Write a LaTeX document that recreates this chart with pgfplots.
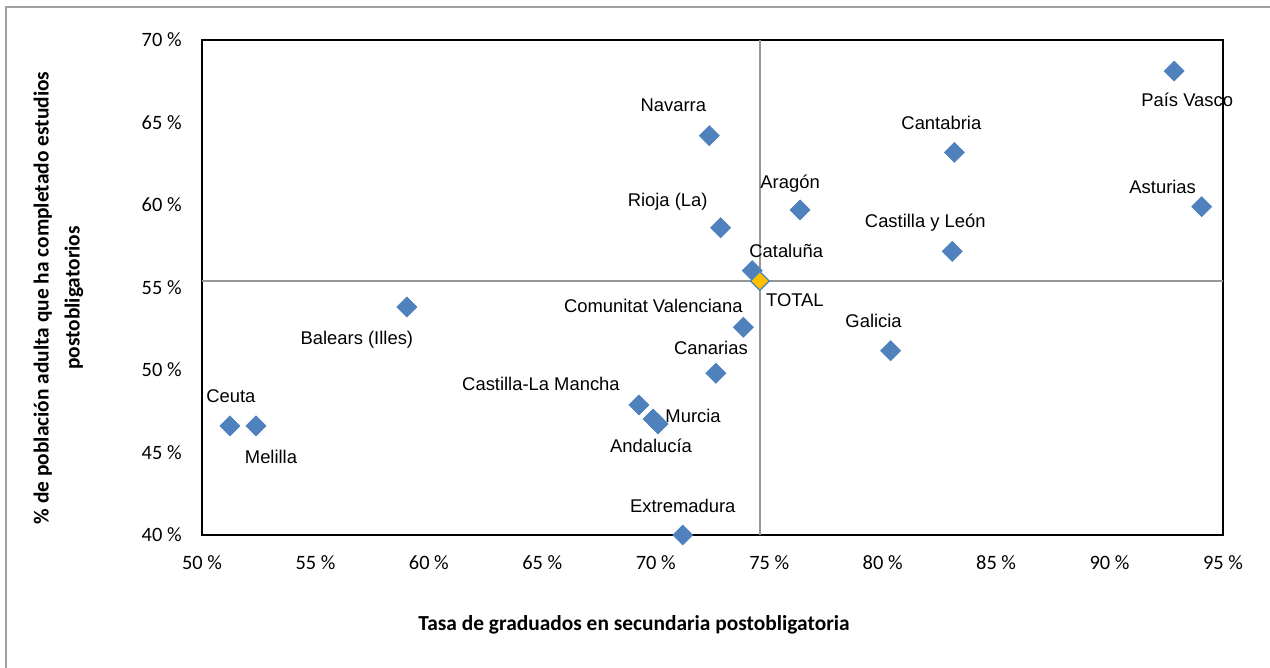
\documentclass[border=0pt]{standalone}
\usepackage{pgfplots}
\pgfplotsset{compat=1.18}
\usepackage{pgfplotstable}
\usepackage{fontspec}
\setmainfont{Carlito}
\newfontfamily\arialf{Liberation Sans}
\definecolor{mblue}{RGB}{79,129,189}
\definecolor{myellow}{RGB}{255,192,0}
\definecolor{crossgray}{RGB}{150,150,150}
\definecolor{framegray}{RGB}{160,160,160}

\pgfplotstableread[col sep=comma]{
x,y,dx,dy,label
51.23,46.61,1,30,Ceuta
52.38,46.61,15,-31,Melilla
59.03,53.82,-50,-33,Balears (Illes)
71.19,40.00,0,29,Extremadura
69.26,47.88,-98,21,Castilla-La Mancha
69.88,47.03,40,3,Murcia
70.10,46.73,-7,-22,Andalucía
72.65,49.80,-5,25,Canarias
73.86,52.59,-90,21,Comunitat Valenciana
74.25,56.02,34,20,Cataluña
72.86,58.62,-53,26,Rioja (La)
72.36,64.20,-36,30,Navarra
76.36,59.70,-10,26,Aragón
83.16,63.19,-13,29,Cantabria
83.07,57.19,-27,29,Castilla y León
80.35,51.17,-17,30,Galicia
92.85,68.12,13,-29,País Vasco
94.06,59.90,-39,20,Asturias
}\regions

\pgfplotstableread[col sep=comma]{
x,y,dx,dy,label
74.59,55.39,35,-19,TOTAL
}\total

\begin{document}
\begin{tikzpicture}[x=0.5pt,y=0.5pt]
\useasboundingbox (0,0) rectangle (1270,668);
\draw[framegray, line width=1pt] (6,-5) -- (6,661) -- (1280,661);
\begin{axis}[
  at={(101pt,66.5pt)}, anchor=south west,
  width=510.5pt, height=247.5pt, scale only axis,
  xmin=50, xmax=95, ymin=40, ymax=70,
  xtick={50,55,...,95}, ytick={40,45,...,70},
  major tick length=0pt,
  axis line style={black, line width=1pt},
  /pgf/number format/assume math mode=true,
  xticklabel={\pgfmathprintnumber{\tick}~\%},
  yticklabel={\pgfmathprintnumber{\tick}~\%},
  tick label style={font=\fontsize{10.2}{12}\selectfont, inner sep=0pt},
  yticklabel style={anchor=east, xshift=-10pt},
  xticklabel style={anchor=center, yshift=-14pt},
  clip=false,
]
\addplot[crossgray, line width=0.9pt, forget plot] coordinates {(74.59,40) (74.59,70)};
\addplot[crossgray, line width=0.9pt, forget plot] coordinates {(50,55.39) (95,55.39)};
\addplot[only marks, mark=square*, mark size=3.5pt,
  mark options={rotate=45, fill=mblue, draw=mblue},
  point meta=explicit symbolic,
  visualization depends on={\thisrow{dx}\as\dx},
  visualization depends on={\thisrow{dy}\as\dy},
  nodes near coords,
  nodes near coords style={anchor=center, inner sep=0pt, font=\arialf\fontsize{9.2}{11}\selectfont, text=black,
    xshift={\dx*0.5pt}, yshift={\dy*0.5pt}},
] table[x=x, y=y, meta=label] {\regions};
\addplot[only marks, mark=square*, mark size=3.3pt,
  mark options={rotate=45, fill=myellow, draw=mblue, line width=0.6pt},
  point meta=explicit symbolic,
  visualization depends on={\thisrow{dx}\as\dx},
  visualization depends on={\thisrow{dy}\as\dy},
  nodes near coords,
  nodes near coords style={anchor=center, inner sep=0pt, font=\arialf\fontsize{9.2}{11}\selectfont, text=black,
    xshift={\dx*0.5pt}, yshift={\dy*0.5pt}},
] table[x=x, y=y, meta=label] {\total};
\end{axis}
\node[font=\bfseries\fontsize{10.7}{13}\selectfont] at (634,43) {Tasa de graduados en secundaria postobligatoria};
\node[rotate=90, align=center, font=\bfseries\fontsize{10.7}{15.5}\selectfont] at (58.5,370)
  {\% de población adulta que ha completado estudios\\postobligatorios};
\end{tikzpicture}
\end{document}
